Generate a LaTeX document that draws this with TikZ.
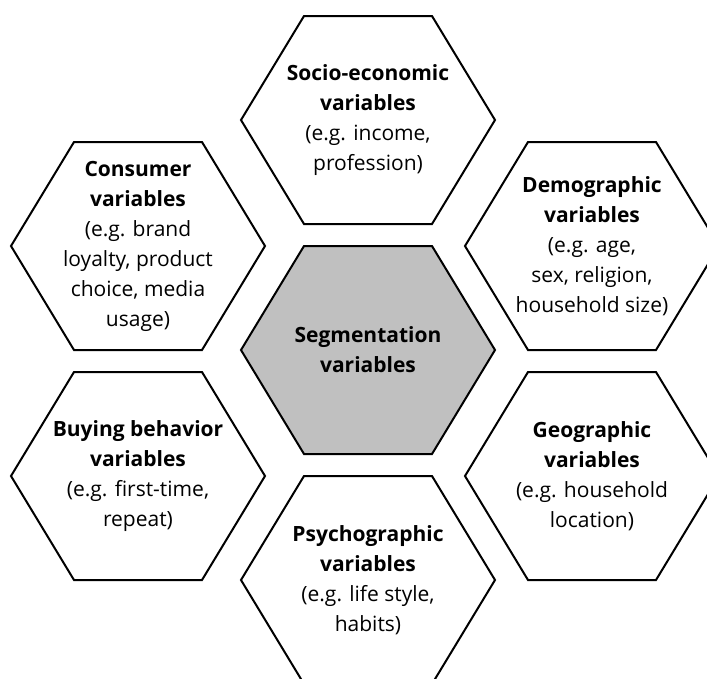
\documentclass[tikz,border=0pt]{standalone}
\usepackage{fontspec}
\setmainfont{Open Sans}
\usetikzlibrary{calc}
\definecolor{segfill}{RGB}{192,192,192}
\newcommand\hexpath[1]{($(#1)+(-127,0)$) -- ++(63,-104) -- ++(128,0) -- ++(63,104) -- ++(-63,104) -- ++(-128,0) -- cycle}

\begin{document}
\begin{tikzpicture}[x=1pt,y=-1pt,
    hexnode/.style={draw=black,line width=2pt,fill=white,line join=miter},
    segnode/.style={hexnode,fill=segfill},
    txtnode/.style={align=center,inner sep=0pt,font=\fontsize{21}{30}\selectfont}]

  %%%% Frame of the figure %%%%
  \useasboundingbox (0,0) rectangle (707,678);
  \clip (0,0) rectangle (707,678);

  %% Set the centre of each hexagon
  \foreach \name/\cx/\cy in {socio/368/120,seg/368/350,psycho/368/580,consumer/138/246,buying/138/476,demo/592/246,geo/592/476}{
    \coordinate (c-\name) at (\cx,\cy);
  }

  %% Draw the hexagons
  \foreach \name in {socio,psycho,consumer,buying,demo,geo}{
    \draw[hexnode] \hexpath{c-\name};
  }
  \draw[segnode] \hexpath{c-seg};

  %% Text inside each hexagon
  \node[txtnode] (seg) at (c-seg) {\textbf{Segmentation}\\\textbf{variables}};
  \node[txtnode] (socio) at (c-socio) {\textbf{Socio-economic}\\\textbf{variables}\\(e.g. income,\\profession)};
  \node[txtnode] (consumer) at (c-consumer) {\textbf{Consumer}\\\textbf{variables}\\(e.g. brand\\loyalty, product\\choice, media\\usage)};
  \node[txtnode] (demo) at (c-demo) {\textbf{Demographic}\\\textbf{variables}\\(e.g. age,\\sex, religion,\\household size)};
  \node[txtnode] (buying) at (c-buying) {\textbf{Buying behavior}\\\textbf{variables}\\(e.g. first-time,\\repeat)};
  \node[txtnode] (geo) at (c-geo) {\textbf{Geographic}\\\textbf{variables}\\(e.g. household\\location)};
  \node[txtnode] (psycho) at (c-psycho) {\textbf{Psychographic}\\\textbf{variables}\\(e.g. life style,\\habits)};

\end{tikzpicture}
\end{document}
